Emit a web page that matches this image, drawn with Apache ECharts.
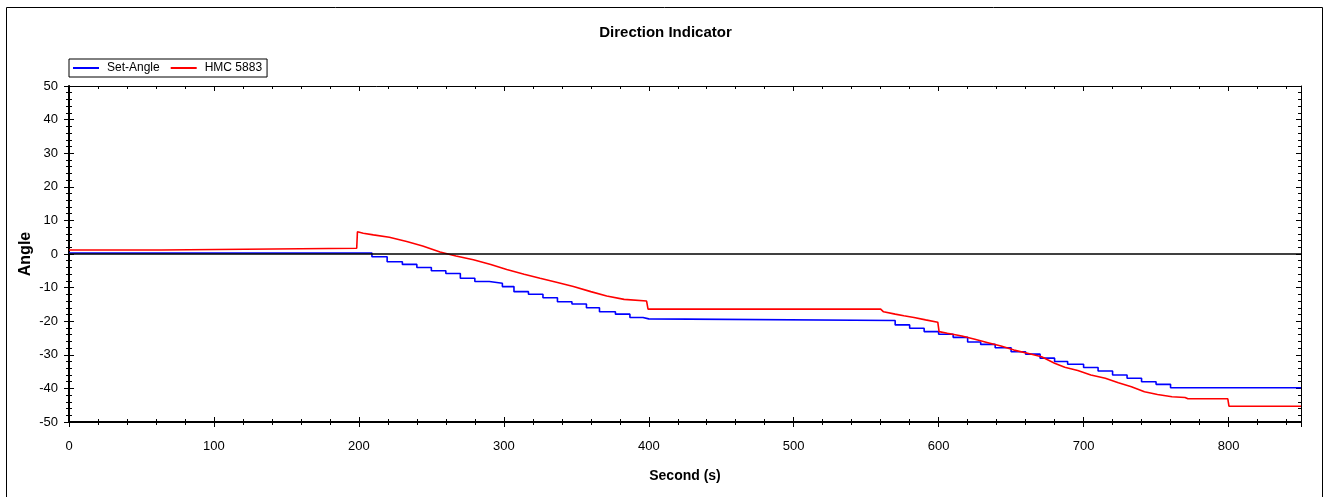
<!DOCTYPE html>
<html>
<head>
<meta charset="utf-8">
<title>Direction Indicator</title>
<script src="https://cdn.jsdelivr.net/npm/echarts@6/dist/echarts.min.js"></script>
<style>
  html, body { margin: 0; padding: 0; background: #fff; }
  #chart { width: 1331px; height: 497px; }
</style>
</head>
<body>
<div id="chart"></div>
<script>
// Set-Angle: commanded heading, held until the next change (time in s, angle in deg)
const setAngleTimes = [0, 209, 219.5, 230, 240, 250, 260, 270, 280, 290, 299, 307, 317, 327, 337, 347, 357, 366, 377, 387, 396, 400,
  570, 580, 590, 600, 610, 620, 629, 639, 650, 660, 670, 680, 689, 700, 710, 720, 730, 740, 750, 760, 850];
const setAngleValues = [0.3, -0.8, -2.3, -3.1, -4.0, -5.0, -5.8, -7.2, -8.2, -8.7, -9.7, -11.2, -12.0, -13.0, -14.2, -14.9, -16.0, -17.2, -17.9, -18.9, -19.3, -19.8,
  -21.1, -22.1, -23.1, -23.9, -24.8, -26.2, -26.9, -27.9, -29.1, -29.8, -31.0, -32.0, -32.8, -33.8, -34.8, -36.0, -37.0, -38.0, -38.8, -39.8, -39.8];

// HMC 5883 compass reading (time in s, angle in deg)
const hmcTimes = [0, 63.5, 64, 198.5, 199, 203, 210, 221, 233, 244, 256, 267, 279, 291, 302, 314, 325, 337, 348, 360, 371, 383, 398.5, 399.5,
  560, 562, 570, 576, 583, 591, 599.4, 600.3, 606, 616, 625, 634, 643, 652, 662, 671, 680, 687, 696, 705, 715, 724, 733, 742, 751, 761, 770, 772, 799.5, 800.3, 850];
const hmcValues = [1.2, 1.2, 1.7, 1.7, 6.6, 6.2, 5.7, 5.0, 3.7, 2.4, 0.6, -0.6, -1.7, -3.1, -4.6, -6.0, -7.2, -8.5, -9.7, -11.2, -12.5, -13.5, -14.0, -16.4,
  -16.4, -17.2, -17.9, -18.4, -18.9, -19.6, -20.3, -23.1, -23.6, -24.4, -25.4, -26.4, -27.4, -28.6, -29.6, -30.6, -32.5, -33.7, -34.7, -36.0, -37.0, -38.3, -39.5, -41.0, -41.8, -42.5, -42.7, -43.1, -43.1, -45.3, -45.3];

// Axis ranges and tick spacing
const xRange = [0, 850];
const xStep = 100;
const yRange = [-50, 50];
const yStep = 10;

const sans = "'Liberation Sans', Arial, sans-serif";

const zip = (xs, ys) => xs.map((x, i) => [x, ys[i]]);

const chart = echarts.init(document.getElementById('chart'), null, { renderer: 'canvas' });

function xAxisDef(position, inside, main) {
  return {
    type: 'value', position: position, min: xRange[0], max: xRange[1], interval: xStep,
    axisLine: { show: true, onZero: false, lineStyle: { color: '#000', width: main ? 2 : 1 } },
    axisTick: { show: true, inside: inside, length: 5, lineStyle: { color: '#000', width: 1 } },
    minorTick: { show: true, splitNumber: 5, length: 3, lineStyle: { color: '#000', width: 1 } },
    axisLabel: main ? { show: true, color: '#000', fontFamily: sans, fontSize: 13, margin: 18, showMaxLabel: false } : { show: false },
    splitLine: { show: false },
    name: main ? 'Second (s)' : '',
    nameLocation: 'middle', nameGap: 47,
    nameTextStyle: { color: '#000', fontFamily: sans, fontWeight: 'bold', fontSize: 14 }
  };
}

function yAxisDef(position, inside, main) {
  return {
    type: 'value', position: position, min: yRange[0], max: yRange[1], interval: yStep,
    axisLine: { show: true, onZero: false, lineStyle: { color: '#000', width: main ? 2 : 1 } },
    axisTick: { show: true, inside: inside, length: 5, lineStyle: { color: '#000', width: 1 } },
    minorTick: { show: true, splitNumber: 5, length: 3, lineStyle: { color: '#000', width: 1 } },
    axisLabel: main ? { show: true, color: '#000', fontFamily: sans, fontSize: 13, margin: 11 } : { show: false },
    splitLine: { show: false },
    name: main ? 'Angle' : '',
    nameLocation: 'middle', nameGap: 35, nameRotate: 90, nameMoveOverlap: false,
    nameTextStyle: { color: '#000', fontFamily: sans, fontWeight: 'bold', fontSize: 16 }
  };
}

chart.setOption({
  animation: false,
  backgroundColor: '#fff',
  title: {
    text: 'Direction Indicator', left: 'center', top: 25, padding: 0,
    textStyle: { color: '#000', fontFamily: sans, fontWeight: 'bold', fontSize: 15 }
  },
  legend: {
    left: 69, top: 59, orient: 'horizontal',
    padding: [3, 5, 3, 4], itemGap: 11, itemWidth: 26, itemHeight: 2,
    borderColor: '#000', borderWidth: 1, backgroundColor: '#fff',
    icon: 'rect',
    textStyle: { color: '#000', fontFamily: sans, fontSize: 12, padding: [0, 0, 0, 3] },
    data: ['Set-Angle', 'HMC 5883']
  },
  graphic: [{
    type: 'rect', silent: true, z: -1,
    shape: { x: 6.5, y: 7.5, width: 1316, height: 500 },
    style: { fill: 'none', stroke: '#000', lineWidth: 1 }
  }],
  grid: { left: 69, right: 30, top: 86, bottom: 75, containLabel: false },
  xAxis: [
    xAxisDef('bottom', false, true),
    xAxisDef('bottom', true, false),
    xAxisDef('top', true, false)
  ],
  yAxis: [
    yAxisDef('left', false, true),
    yAxisDef('left', true, false),
    yAxisDef('right', true, false)
  ],
  series: [
    {
      name: 'Set-Angle', type: 'line', step: 'end', showSymbol: false, symbol: 'none',
      xAxisIndex: 0, yAxisIndex: 0,
      lineStyle: { color: '#0000ff', width: 1.6 }, itemStyle: { color: '#0000ff' },
      data: zip(setAngleTimes, setAngleValues),
      markLine: {
        silent: true, symbol: 'none', label: { show: false },
        lineStyle: { color: '#000', width: 1.5, type: 'solid' },
        data: [{ yAxis: 0 }]
      }
    },
    {
      name: 'HMC 5883', type: 'line', showSymbol: false, symbol: 'none',
      xAxisIndex: 0, yAxisIndex: 0,
      lineStyle: { color: '#ff0000', width: 1.6 }, itemStyle: { color: '#ff0000' },
      data: zip(hmcTimes, hmcValues)
    }
  ]
});
</script>
</body>
</html>
